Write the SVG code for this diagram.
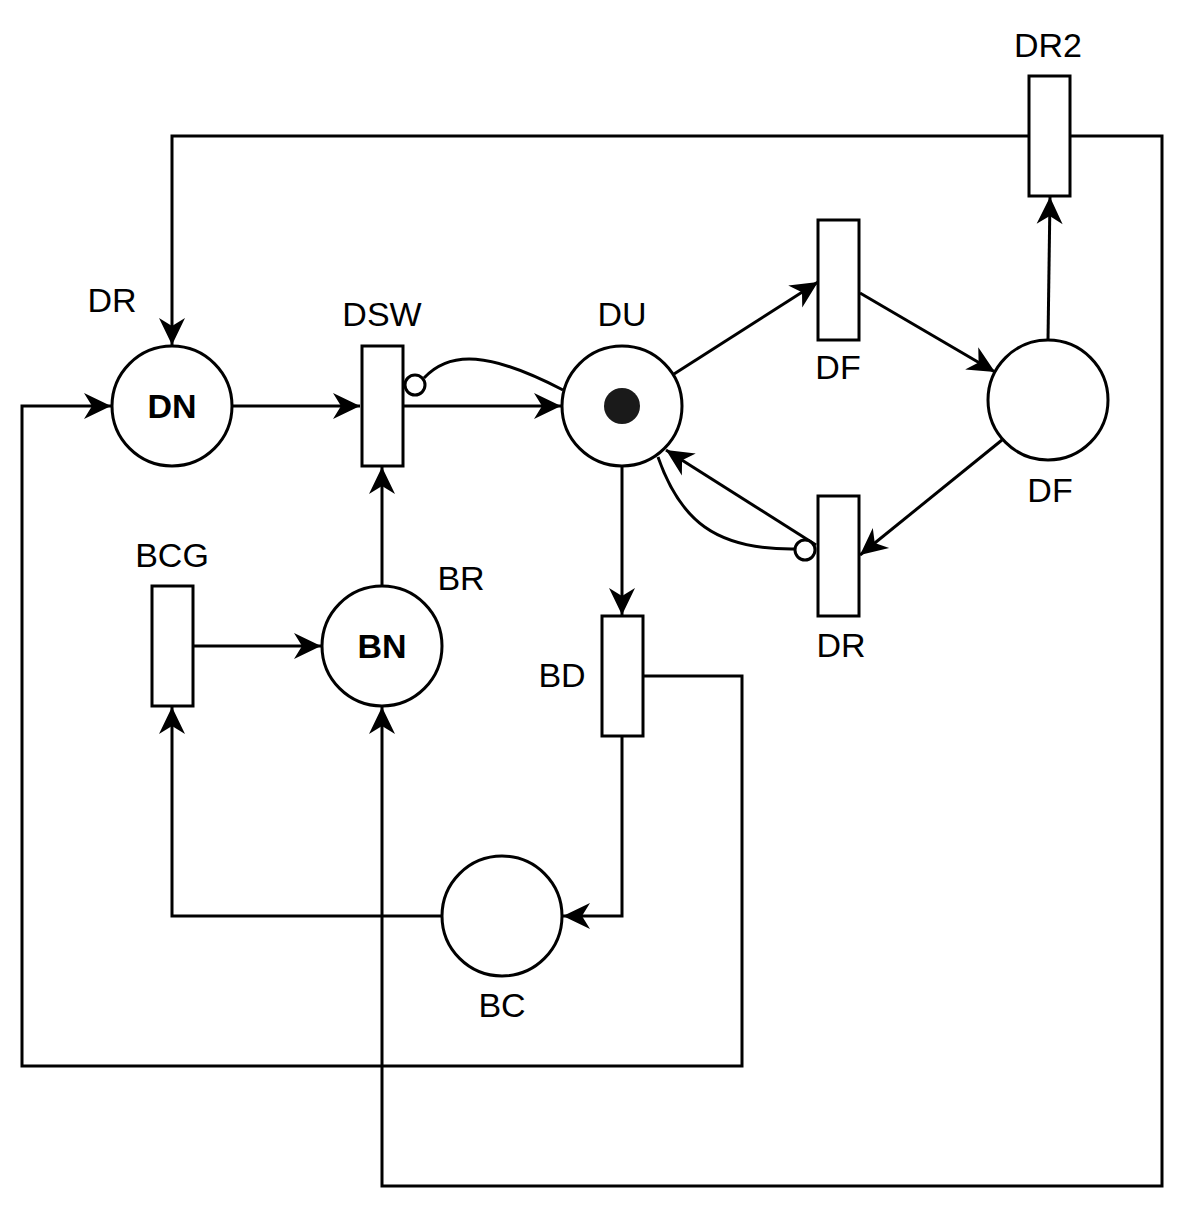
<svg xmlns="http://www.w3.org/2000/svg" width="1188" height="1212" viewBox="0 0 1188 1212">
<style>
.place{fill:#fff;stroke:#000;stroke-width:3}
.trans{fill:#fff;stroke:#000;stroke-width:3}
.edge{fill:none;stroke:#000;stroke-width:3}
.arr{marker-end:url(#arrow)}
.inh{fill:#fff;stroke:#000;stroke-width:3}
.lbl{font-family:"Liberation Sans",Arial,sans-serif;font-size:34px;fill:#000;text-anchor:middle}
.bold{font-weight:bold}
</style>
<defs>
<marker id="arrow" markerUnits="userSpaceOnUse" markerWidth="28" markerHeight="28" refX="27" refY="13" orient="auto" overflow="visible">
<path d="M27,13 L0,0 L8,13 L0,26 Z" fill="#000"/>
</marker>
</defs>
<rect width="1188" height="1212" fill="#fff"/>
<g id="connectors">
<path class="edge arr" d="M232,406 L360,406"/>
<path class="edge arr" d="M403,406 L561,406"/>
<path class="edge" d="M424,378 C450,350 490,352 563,390"/>
<circle class="inh" cx="415" cy="385" r="10"/>
<path class="edge arr" d="M674,374 L818,282"/>
<path class="edge arr" d="M860,293 L995,372"/>
<path class="edge arr" d="M1048,340 L1050,197"/>
<path class="edge arr" d="M1002,440 L860,555"/>
<path class="edge arr" d="M816,545 L666,450"/>
<path class="edge" d="M658,457 C680,520 715,550 795,549"/>
<circle class="inh" cx="805" cy="550" r="10"/>
<path class="edge arr" d="M622,466 L622,615"/>
<path class="edge arr" d="M622,736 L622,916 L563,916"/>
<path class="edge arr" d="M643,676 L742,676 L742,1066 L22,1066 L22,406 L111,406"/>
<path class="edge arr" d="M442,916 L172,916 L172,707"/>
<path class="edge arr" d="M193,646 L321,646"/>
<path class="edge arr" d="M382,586 L382,467"/>
<path class="edge arr" d="M1029,136 L172,136 L172,345"/>
<path class="edge arr" d="M1070,136 L1162,136 L1162,1186 L382,1186 L382,707"/>
</g>
<g id="DN"><circle class="place" cx="172" cy="406" r="60"/><text class="lbl bold" x="172" y="418">DN</text><text class="lbl" x="112" y="312">DR</text></g>
<g id="DSW"><rect class="trans" x="362" y="346" width="41" height="120"/><text class="lbl" x="382" y="326">DSW</text></g>
<g id="DU"><circle class="place" cx="622" cy="406" r="60"/><circle cx="622" cy="406" r="18" fill="#1a1a1a"/><text class="lbl" x="622" y="326">DU</text></g>
<g id="DF_t"><rect class="trans" x="818" y="220" width="41" height="120"/><text class="lbl" x="838" y="379">DF</text></g>
<g id="DF_p"><circle class="place" cx="1048" cy="400" r="60"/><text class="lbl" x="1050" y="502">DF</text></g>
<g id="DR_t"><rect class="trans" x="818" y="496" width="41" height="120"/><text class="lbl" x="841" y="657">DR</text></g>
<g id="DR2"><rect class="trans" x="1029" y="76" width="41" height="120"/><text class="lbl" x="1048" y="57">DR2</text></g>
<g id="BCG"><rect class="trans" x="152" y="586" width="41" height="120"/><text class="lbl" x="172" y="567">BCG</text></g>
<g id="BN"><circle class="place" cx="382" cy="646" r="60"/><text class="lbl bold" x="382" y="658">BN</text><text class="lbl" x="461" y="590">BR</text></g>
<g id="BD"><rect class="trans" x="602" y="616" width="41" height="120"/><text class="lbl" x="562" y="687">BD</text></g>
<g id="BC"><circle class="place" cx="502" cy="916" r="60"/><text class="lbl" x="502" y="1017">BC</text></g>
</svg>
